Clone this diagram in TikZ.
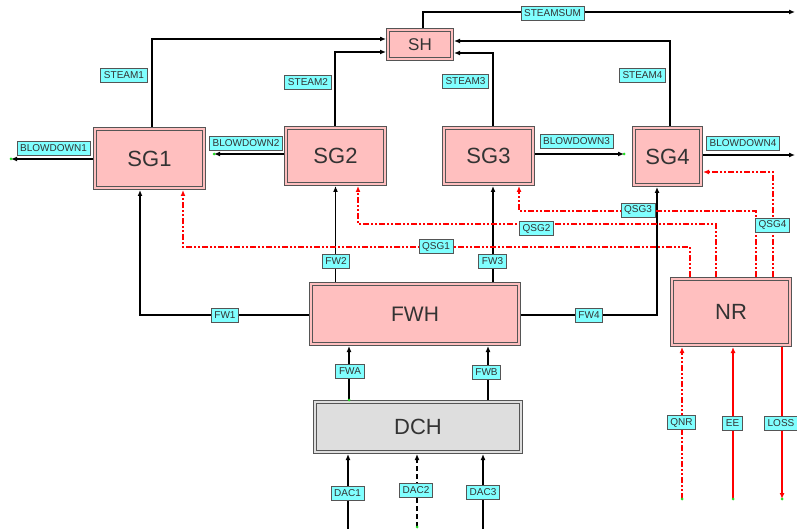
\documentclass[tikz,border=0pt]{standalone}
\usepackage{fontspec}
\setmainfont{Liberation Sans}
\usetikzlibrary{arrows.meta}
\definecolor{boxpink}{HTML}{FFBFBF}
\definecolor{boxgray}{HTML}{DEDEDE}
\definecolor{labcyan}{HTML}{80FFFF}
\definecolor{edgegray}{HTML}{555555}
\definecolor{txtgray}{HTML}{333333}
\definecolor{dotgreen}{HTML}{22DD22}
\tikzset{
  unit/.style={draw=edgegray, line width=0.8pt, double=boxpink, double distance=2.4pt,
    fill=boxpink, outer sep=2pt, inner sep=0pt, text=txtgray},
  graybox/.style={unit, double=boxgray, fill=boxgray},
  tag/.style={draw=edgegray, line width=0.8pt, fill=labcyan, inner xsep=3.2pt, inner ysep=0pt,
    minimum height=14pt, font=\fontsize{10}{10}\selectfont, text=txtgray},
  flow/.style={line width=1.6pt, black, -{Latex[length=6pt,width=5pt]}},
  heat/.style={line width=1.6pt, red, dash pattern=on 6pt off 2pt on 2pt off 2pt on 2pt off 2pt,
    -{Latex[length=6pt,width=5pt]}},
  power/.style={line width=1.6pt, red, -{Latex[length=6pt,width=5pt]}},
  gdot/.style={fill=dotgreen}
}
\begin{document}
\begin{tikzpicture}[x=1pt,y=-1pt]
\useasboundingbox (0,0) rectangle (797,529);
% units
\node[unit, minimum width=64pt, minimum height=29pt, font=\fontsize{17}{17}\selectfont] (SH) at (420,44.5) {SH};
\node[unit, minimum width=109pt, minimum height=59pt, font=\fontsize{22}{22}\selectfont] (SG1) at (149.5,158.5) {SG1};
\node[unit, minimum width=99pt, minimum height=56pt, font=\fontsize{22}{22}\selectfont] (SG2) at (335.5,156) {SG2};
\node[unit, minimum width=89pt, minimum height=56pt, font=\fontsize{22}{22}\selectfont] (SG3) at (488.5,156) {SG3};
\node[unit, minimum width=67pt, minimum height=57pt, font=\fontsize{22}{22}\selectfont] (SG4) at (667.5,156.5) {SG4};
\node[unit, minimum width=208pt, minimum height=60pt, font=\fontsize{21}{21}\selectfont] (FWH) at (415,314) {FWH};
\node[unit, minimum width=118pt, minimum height=66pt, font=\fontsize{22}{22}\selectfont] (NR) at (731,312) {NR};
\node[graybox, minimum width=206pt, minimum height=50pt, font=\fontsize{22}{22}\selectfont] (DCH) at (418,427) {DCH};
% free ends
\coordinate (ssend) at (795,12);
\coordinate (bd1end) at (11,159);
\coordinate (bd2end) at (214,154);
\coordinate (bd3end) at (624,154);
\coordinate (bd4end) at (795,155);
\coordinate (q1mid) at (400,247);
\coordinate (q2mid) at (500,224);
\coordinate (q3mid) at (600,211);
\coordinate (qnrstart) at (682,499);
\coordinate (eestart) at (733,499);
\coordinate (lossend) at (782,499);
\coordinate (dac1start) at (348,529);
\coordinate (dac2start) at (417,527);
\coordinate (dac3start) at (483,529);
\coordinate (fw3x) at ([xshift=4.5pt]SG3.south);
% steam
\draw[flow] ([xshift=2.5pt]SG1.north) |- ([yshift=5.5pt]SH.west);
\draw[flow] ([xshift=-0.5pt]SG2.north) |- ([yshift=-7.5pt]SH.west);
\draw[flow] ([xshift=4.5pt]SG3.north) |- ([yshift=-8.5pt]SH.east);
\draw[flow] ([xshift=2.5pt]SG4.north) |- ([yshift=3.5pt]SH.east);
\draw[flow] ([xshift=3pt]SH.north) |- (ssend);
% blowdown
\draw[flow] ([yshift=-0.5pt]SG1.west) -- (bd1end);
\draw[flow] ([yshift=2pt]SG2.west) -- (bd2end);
\draw[flow] ([yshift=2pt]SG3.east) -- (bd3end);
\draw[flow] ([yshift=1.5pt]SG4.east) -- (bd4end);
% feedwater
\draw[flow] ([yshift=-1pt]FWH.west) -| ([xshift=-9.5pt]SG1.south);
\draw[flow] (FWH.north -| SG2.south) -- (SG2.south);
\draw[flow] (fw3x |- FWH.north) -- (fw3x);
\draw[flow] ([yshift=-1pt]FWH.east) -| ([xshift=-10.5pt]SG4.south);
\draw[flow] ([xshift=-69pt]DCH.north) -- ([xshift=-66pt]FWH.south);
\draw[flow] ([xshift=70pt]DCH.north) -- ([xshift=73pt]FWH.south);
\draw[flow] (dac1start) -- (dac1start |- DCH.south);
\draw[flow, dash pattern=on 5pt off 3pt] (dac2start) -- (dac2start |- DCH.south);
\draw[flow] (dac3start) -- (dac3start |- DCH.south);
% heat
\draw[heat] ([xshift=-41pt]NR.north) |- (q1mid) -| ([xshift=33.5pt]SG1.south);
\draw[heat] ([xshift=-15pt]NR.north) |- (q2mid) -| ([xshift=22.5pt]SG2.south);
\draw[heat] ([xshift=25pt]NR.north) |- (q3mid) -| ([xshift=30.5pt]SG3.south);
\draw[heat] ([xshift=42pt]NR.north) |- ([yshift=-15.5pt]SG4.east);
\draw[heat] (qnrstart) -- (qnrstart |- NR.south);
\draw[power] (eestart) -- (eestart |- NR.south);
\draw[power] (lossend |- NR.south) -- (lossend);
% green end dots
\foreach \p in {bd1end, bd2end, bd3end, qnrstart, eestart, lossend, dac2start}
  \fill[gdot] (\p) circle (1.5pt);
\fill[gdot] ([xshift=-69pt]DCH.north) circle (1.5pt);
% labels
\node[tag] (lSTEAM1) at (124,75) {STEAM1};
\node[tag] (lSTEAM2) at (308,82.5) {STEAM2};
\node[tag] (lSTEAM3) at (465.5,81) {STEAM3};
\node[tag] (lSTEAM4) at (642.5,75) {STEAM4};
\node[tag] (lSTEAMSUM) at (552.5,13) {STEAMSUM};
\node[tag] (lBD1) at (53.5,148.5) {BLOWDOWN1};
\node[tag] (lBD2) at (246,143) {BLOWDOWN2};
\node[tag] (lBD3) at (576.5,141) {BLOWDOWN3};
\node[tag] (lBD4) at (743,143.5) {BLOWDOWN4};
\node[tag] (lFW1) at (225,315.5) {FW1};
\node[tag] (lFW2) at (336,261) {FW2};
\node[tag] (lFW3) at (492.5,261) {FW3};
\node[tag] (lFW4) at (589,315) {FW4};
\node[tag] (lQSG1) at (436,246.5) {QSG1};
\node[tag] (lQSG2) at (536.5,228.5) {QSG2};
\node[tag] (lQSG3) at (638,210) {QSG3};
\node[tag] (lQSG4) at (772.5,225) {QSG4};
\node[tag] (lQNR) at (681.5,422.5) {QNR};
\node[tag] (lEE) at (732.5,423) {EE};
\node[tag] (lLOSS) at (781,423) {LOSS};
\node[tag] (lFWA) at (350,371.5) {FWA};
\node[tag] (lFWB) at (486.5,372) {FWB};
\node[tag] (lDAC1) at (347.5,493) {DAC1};
\node[tag] (lDAC2) at (416,490.5) {DAC2};
\node[tag] (lDAC3) at (483,492) {DAC3};
\end{tikzpicture}
\end{document}
